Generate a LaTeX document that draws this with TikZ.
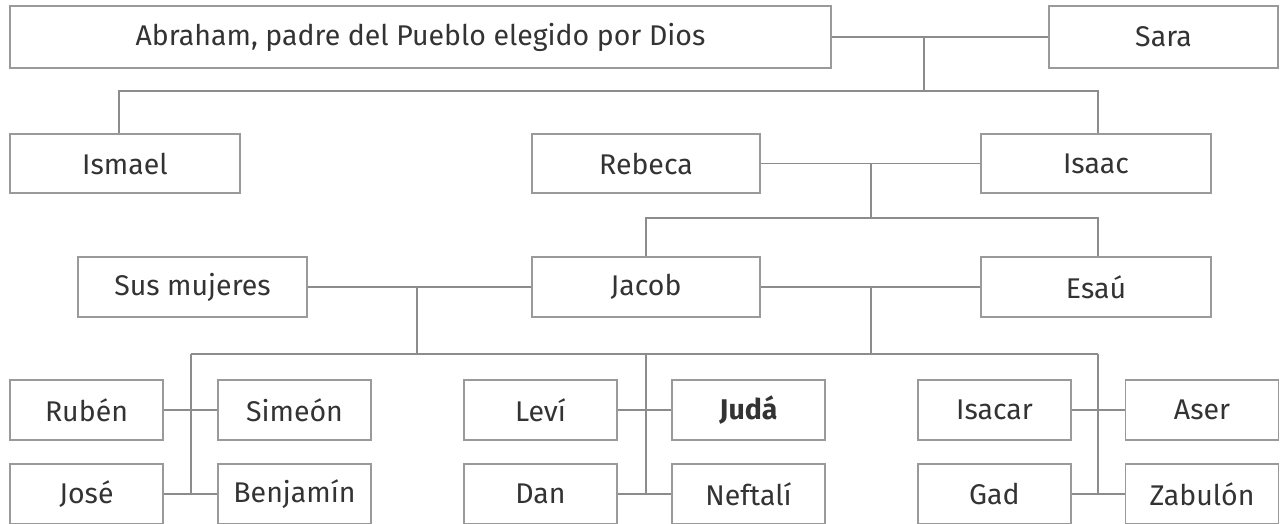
\documentclass[tikz,border=0pt]{standalone}
\usepackage{fontspec}
\setmainfont{Fira Sans}
\begin{document}
\begin{tikzpicture}[x=1pt,y=-1pt,
  bx/.style={draw=boxgray, line width=1.5pt, inner sep=0pt, text=txt, font=\fontsize{28.5}{32}\selectfont},
  ln/.style={draw=lngray, line width=1.5pt}]
\definecolor{boxgray}{HTML}{9A9A9A}
\definecolor{lngray}{HTML}{8C8C8C}
\definecolor{txt}{HTML}{333333}
\useasboundingbox (0,0) rectangle (1280,523);
% generation 1
\node[bx, minimum width=821pt, minimum height=62pt] (abraham) at (420.5,37) {Abraham, padre del Pueblo elegido por Dios};
\node[bx, minimum width=229pt, minimum height=62pt] (sara) at (1163.5,37) {Sara};
% generation 2
\node[bx, minimum width=230pt, minimum height=59pt] (ismael) at (125,163.5) {Ismael};
\node[bx, minimum width=228pt, minimum height=59pt] (rebeca) at (646,163.5) {Rebeca};
\node[bx, minimum width=230pt, minimum height=59pt] (isaac) at (1096,163.5) {Isaac};
% generation 3
\node[bx, minimum width=229pt, minimum height=60pt] (sus) at (192.5,287) {Sus mujeres};
\node[bx, minimum width=228pt, minimum height=60pt] (jacob) at (646,287) {Jacob};
\node[bx, minimum width=230pt, minimum height=60pt] (esau) at (1096,287) {Esaú};
% generation 4
\foreach \nm/\tx/\cx/\cy in {ruben/Rubén/86.5/410, simeon/Simeón/294.5/410, levi/Leví/540.5/410,
  isacar/Isacar/994.5/410, aser/Aser/1202/410,
  jose/José/86.5/494, benjamin/Benjamín/294.5/494, dan/Dan/540.5/494, neftali/Neftalí/748.5/494,
  gad/Gad/994.5/494, zabulon/Zabulón/1202/494}
  \node[bx, minimum width=153pt, minimum height=60pt] (\nm) at (\cx,\cy) {\tx};
\node[bx, minimum width=153pt, minimum height=60pt, font=\fontsize{28.5}{32}\selectfont\bfseries] (juda) at (748.5,410) {Judá};
% connectors gen 1-2
\coordinate (m1) at (924,37);
\coordinate (b1) at (924,91);
\coordinate (b1l) at (119,91);
\coordinate (b1r) at (1098,91);
\draw[ln] (abraham) -- (sara);
\draw[ln] (m1) -- (b1);
\draw[ln] (ismael.north -| b1l) -- (b1l) -- (b1r) -- (isaac.north -| b1r);
% gen 2-3
\coordinate (m2) at (871,163.5);
\coordinate (b2) at (871,218);
\draw[ln] (rebeca) -- (isaac);
\draw[ln] (m2) -- (b2);
\draw[ln] (jacob.north) |- (b2) -| (esau.north -| b1r);
% gen 3-4
\coordinate (m3) at (417,287);
\coordinate (m4) at (871,287);
\coordinate (b3l) at (191,354);
\coordinate (b3m) at (646,354);
\coordinate (b3r) at (1098,354);
\draw[ln] (sus) -- (jacob);
\draw[ln] (jacob) -- (esau);
\draw[ln] (m3) -- (m3 |- b3l);
\draw[ln] (m4) -- (m4 |- b3l);
\draw[ln] (b3l) -- (b3r);
\coordinate (e1) at (191,493);
\coordinate (e2) at (646,493);
\coordinate (e3) at (1098,493);
\draw[ln] (b3l) -- (e1);
\draw[ln] (b3m) -- (e2);
\draw[ln] (b3r) -- (e3);
\draw[ln] (ruben) -- (simeon);
\draw[ln] (jose) -- (benjamin);
\draw[ln] (levi) -- (juda);
\draw[ln] (dan) -- (neftali);
\draw[ln] (isacar) -- (aser);
\draw[ln] (gad) -- (zabulon);
\end{tikzpicture}
\end{document}
